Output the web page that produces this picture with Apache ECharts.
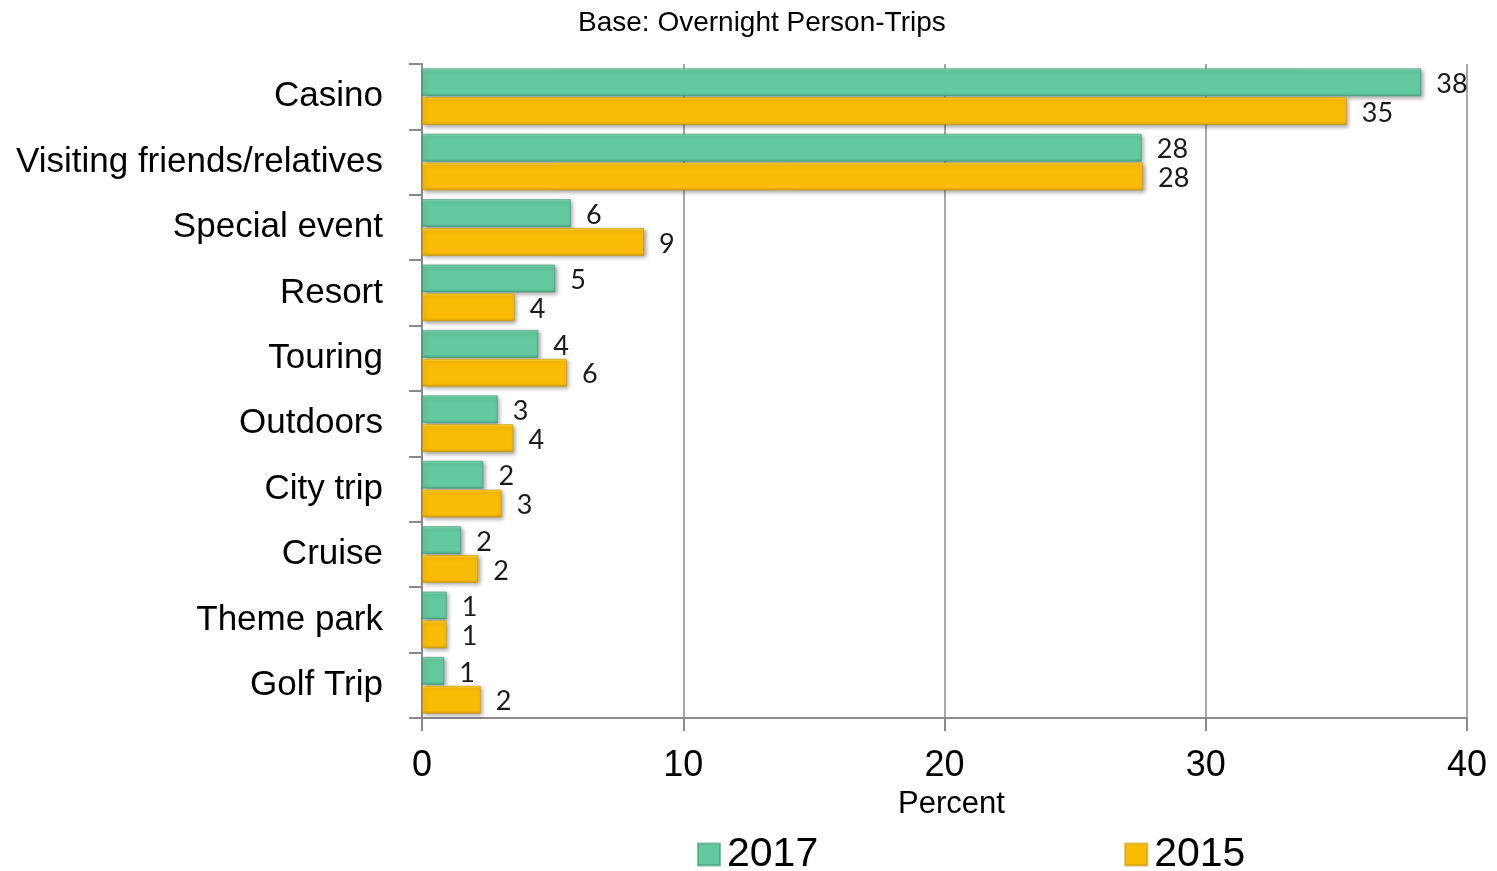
<!DOCTYPE html>
<html>
<head>
<meta charset="utf-8">
<script src="https://cdn.jsdelivr.net/npm/echarts@6/dist/echarts.min.js"></script>
<style>
  html, body { margin: 0; padding: 0; background: #fff; }
  #chart { width: 1497px; height: 871px; }
</style>
</head>
<body>
<div id="chart"></div>
<script>
// Trip purposes, top to bottom
const categories = ['Casino', 'Visiting friends/relatives', 'Special event', 'Resort', 'Touring',
  'Outdoors', 'City trip', 'Cruise', 'Theme park', 'Golf Trip'];
// Share of overnight person-trips (percent)
const values2017 = [38.25, 27.55, 5.7, 5.1, 4.45, 2.9, 2.35, 1.5, 0.95, 0.85];
const values2015 = [35.4, 27.6, 8.5, 3.55, 5.55, 3.5, 3.05, 2.15, 0.95, 2.25];
const xTicks = [0, 10, 20, 30, 40];

const chart = echarts.init(document.getElementById('chart'), null, { renderer: 'canvas' });

function bevel(top, main, bottom) {
  return new echarts.graphic.LinearGradient(0, 0, 0, 1, [
    { offset: 0, color: top },
    { offset: 0.1, color: main },
    { offset: 0.88, color: main },
    { offset: 1, color: bottom }
  ]);
}

const labelStyle = {
  show: true,
  position: 'right',
  distance: 15,
  offset: [0, 2],
  fontFamily: 'Lato',
  fontSize: 27,
  color: '#1a1a1a',
  formatter: p => Math.round(p.value)
};

const shadow = {
  shadowColor: 'rgba(0,0,0,0.35)',
  shadowBlur: 4,
  shadowOffsetX: 2,
  shadowOffsetY: 2
};

chart.setOption({
  animation: false,
  backgroundColor: '#ffffff',
  title: {
    text: 'Base: Overnight Person-Trips',
    left: 573,
    top: 4,
    textStyle: { fontFamily: 'Liberation Sans', fontSize: 28, fontWeight: 'normal', color: '#000' }
  },
  legend: {
    left: 692,
    top: 829,
    itemGap: 306,
    itemWidth: 22,
    itemHeight: 22,
    icon: 'rect',
    textStyle: { fontFamily: 'Liberation Sans', fontSize: 41, color: '#000', padding: [0, 0, 0, 2] },
    data: ['2017', '2015']
  },
  grid: { left: 422, right: 30, top: 64, bottom: 153, containLabel: false, outerBoundsMode: 'none' },
  xAxis: {
    type: 'value',
    min: xTicks[0],
    max: xTicks[xTicks.length - 1],
    interval: 10,
    name: 'Percent',
    nameLocation: 'middle',
    nameGap: 57,
    nameTextStyle: { fontFamily: 'Liberation Sans', fontSize: 31, color: '#000', padding: [0, 0, 0, 14] },
    axisLine: { show: true, lineStyle: { color: '#8a8a8a', width: 2 } },
    axisTick: { show: true, length: 13, lineStyle: { color: '#8a8a8a', width: 2 } },
    axisLabel: { margin: 30, fontFamily: 'Liberation Sans', fontSize: 36, color: '#000' },
    splitLine: { show: true, lineStyle: { color: '#8a8a8a', width: 1.5 } }
  },
  yAxis: {
    type: 'category',
    inverse: true,
    data: categories,
    axisLine: { show: true, lineStyle: { color: '#8a8a8a', width: 2 } },
    axisTick: { show: true, length: 13, lineStyle: { color: '#8a8a8a', width: 2 } },
    axisLabel: { margin: 39, fontFamily: 'Liberation Sans', fontSize: 35, color: '#000', padding: [5, 0, 0, 0] }
  },
  series: [
    {
      name: '2017',
      type: 'bar',
      data: values2017,
      barWidth: 28,
      barGap: '3%',
      itemStyle: Object.assign({
        color: bevel('#93DFC0', '#62C9A0', '#4CAE87'),
        borderColor: 'rgba(60,150,115,0.6)',
        borderWidth: 1
      }, shadow),
      label: labelStyle
    },
    {
      name: '2015',
      type: 'bar',
      data: values2015,
      barWidth: 28,
      barGap: '3%',
      itemStyle: Object.assign({
        color: bevel('#FFDF45', '#FBBC08', '#D9A000'),
        borderColor: 'rgba(200,150,0,0.6)',
        borderWidth: 1
      }, shadow),
      label: labelStyle
    }
  ]
});
</script>
</body>
</html>
